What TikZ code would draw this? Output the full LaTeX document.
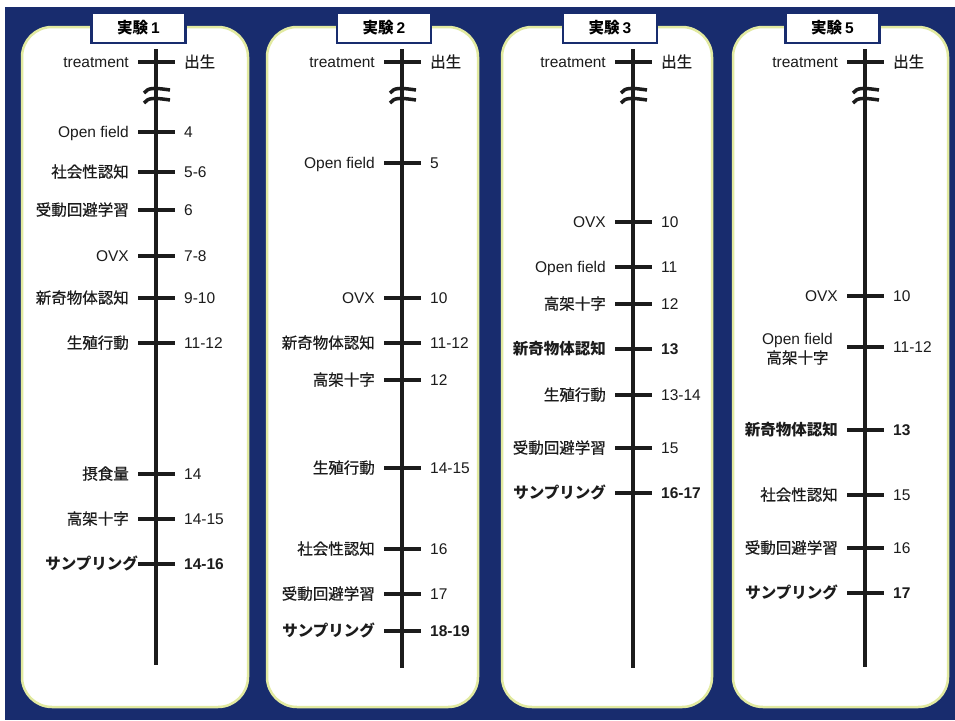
\documentclass[tikz,border=0pt]{standalone}
\usepackage{fontspec}
\setmainfont{Liberation Sans}
\newfontfamily\jp{Noto Sans CJK JP}[UprightFeatures={FakeBold=0.6}]
\definecolor{navy}{RGB}{24,44,110}
\definecolor{rim}{RGB}{226,234,160}
\definecolor{ink}{RGB}{28,28,28}
\tikzset{
  panel/.style={draw=rim, line width=2.5pt, fill=white, rounded corners=30pt},
  hdr/.style={draw=navy, line width=2.2pt, fill=white, minimum width=94pt, minimum height=30pt, inner sep=0pt, font=\fontsize{15.5}{18}\selectfont\bfseries},
  axisline/.style={draw=ink, line width=4pt},
  tickline/.style={draw=ink, line width=4.5pt},
  breakline/.style={draw=ink, line width=3.5pt},
  lab/.style={font=\fontsize{15.5}{18}\selectfont, text=ink, inner sep=0pt, text height=12pt, text depth=1pt},
}
\newcommand\ev[5]{%
  \coordinate (#1) at (#2,#3);
  \coordinate (#1w) at (#2-18,#3);
  \coordinate (#1e) at (#2+19,#3);
  \draw[tickline] (#1w) -- (#1e);
  \node[lab, anchor=east] (#1L) at (#2-27,#3) {#4};
  \node[lab, anchor=west] (#1R) at (#2+28,#3) {#5};
}
\newcommand\axisbreak[2]{%
  \draw[breakline] (#2-12,93) .. controls (#2-8,87) and (#2,88) .. (#2+14,90);
  \draw[breakline] (#2-12,103) .. controls (#2-8,97) and (#2,98) .. (#2+14,100);
}
\begin{document}
\begin{tikzpicture}[x=1pt,y=-1pt]
\useasboundingbox (0,0) rectangle (955,720);
\fill[navy] (5,7) rectangle (955,720);
% panels
\draw[panel] (22,27) rectangle (248,707);
\draw[panel] (267,27) rectangle (478,707);
\draw[panel] (502,27) rectangle (712,707);
\draw[panel] (733,27) rectangle (948,707);
% headers
\node[hdr] (h1) at (138.5,28) {{\jp\bfseries 実験}\hspace{3pt}1};
\node[hdr] (h2) at (384,28) {{\jp\bfseries 実験}\hspace{3pt}2};
\node[hdr] (h3) at (610,28) {{\jp\bfseries 実験}\hspace{3pt}3};
\node[hdr] (h4) at (832.5,28) {{\jp\bfseries 実験}\hspace{3pt}5};
% axes
\coordinate (A1t) at (156,49); \coordinate (A1b) at (156,665);
\coordinate (A2t) at (402,49); \coordinate (A2b) at (402,668);
\coordinate (A3t) at (633,49); \coordinate (A3b) at (633,668);
\coordinate (A4t) at (865,49); \coordinate (A4b) at (865,667);
\draw[axisline] (A1t) -- (A1b);
\draw[axisline] (A2t) -- (A2b);
\draw[axisline] (A3t) -- (A3b);
\draw[axisline] (A4t) -- (A4b);
\axisbreak{B1}{156}
\axisbreak{B2}{402}
\axisbreak{B3}{633}
\axisbreak{B4}{865}
% panel 1
\ev{a0}{156}{62}{treatment}{\jp 出生}
\ev{a1}{156}{132}{Open field}{4}
\ev{a2}{156}{172}{\jp 社会性認知}{5-6}
\ev{a3}{156}{210}{\jp 受動回避学習}{6}
\ev{a4}{156}{256}{OVX}{7-8}
\ev{a5}{156}{298}{\jp 新奇物体認知}{9-10}
\ev{a6}{156}{343}{\jp 生殖行動}{11-12}
\ev{a7}{156}{474}{\jp 摂食量}{14}
\ev{a8}{156}{519}{\jp 高架十字}{14-15}
\ev{a9}{156}{564}{}{\bfseries 14-16}
\node[lab, anchor=east] (a9L2) at (a9w) {\jp\bfseries サンプリング};
% panel 2
\ev{b0}{402}{62}{treatment}{\jp 出生}
\ev{b1}{402}{163}{Open field}{5}
\ev{b2}{402}{298}{OVX}{10}
\ev{b3}{402}{343}{\jp 新奇物体認知}{11-12}
\ev{b4}{402}{380}{\jp 高架十字}{12}
\ev{b5}{402}{468}{\jp 生殖行動}{14-15}
\ev{b6}{402}{549}{\jp 社会性認知}{16}
\ev{b7}{402}{594}{\jp 受動回避学習}{17}
\ev{b8}{402}{631}{\jp\bfseries サンプリング}{\bfseries 18-19}
% panel 3
\ev{c0}{633}{62}{treatment}{\jp 出生}
\ev{c1}{633}{222}{OVX}{10}
\ev{c2}{633}{267}{Open field}{11}
\ev{c3}{633}{304}{\jp 高架十字}{12}
\ev{c4}{633}{349}{\jp\bfseries 新奇物体認知}{\bfseries 13}
\ev{c5}{633}{395}{\jp 生殖行動}{13-14}
\ev{c6}{633}{448}{\jp 受動回避学習}{15}
\ev{c7}{633}{493}{\jp\bfseries サンプリング}{\bfseries 16-17}
% panel 4
\ev{d0}{865}{62}{treatment}{\jp 出生}
\ev{d1}{865}{296}{OVX}{10}
\ev{d2}{865}{347}{}{11-12}
\node[font=\fontsize{15.5}{19}\selectfont, text=ink, inner sep=0pt, align=center, anchor=east] (d2L2) at (833,349) {Open field\\{\jp 高架十字}};
\ev{d3}{865}{430}{\jp\bfseries 新奇物体認知}{\bfseries 13}
\ev{d4}{865}{495}{\jp 社会性認知}{15}
\ev{d5}{865}{548}{\jp 受動回避学習}{16}
\ev{d6}{865}{593}{\jp\bfseries サンプリング}{\bfseries 17}
\end{tikzpicture}
\end{document}
